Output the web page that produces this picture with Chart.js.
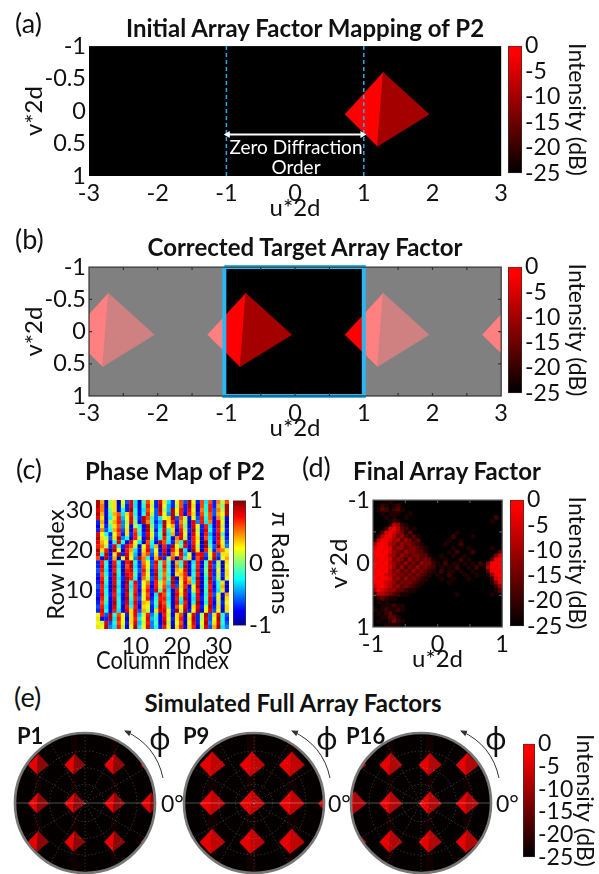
<!DOCTYPE html>
<html>
<head>
<meta charset="utf-8">
<script src="https://cdn.jsdelivr.net/npm/chart.js@4/dist/chart.umd.min.js"></script>
<style>
  html, body { margin: 0; padding: 0; background: #fff; width: 599px; height: 874px; overflow: hidden; }
  canvas { position: absolute; }
  svg { position: absolute; left: 0; top: 0; }
  .t { position: absolute; white-space: nowrap; font-family: Lato, sans-serif; color: #111; line-height: 1; }
  .title { font-weight: 700; font-size: 24px; transform: translateX(-50%); }
  .panel { font-size: 27px; }
  .tag { font-weight: 700; font-size: 22px; }
  .zero { font-size: 23px; }
  .note { color: #fff; font-size: 19px; transform: translateX(-50%); text-align: center; line-height: 20px; }
</style>
</head>
<body>
<script>
const FONT = 'Lato, sans-serif';

// axes
const uTicks = [-3, -2, -1, 0, 1, 2, 3];
const vTicks = [-1, -0.5, 0, 0.5, 1];
const uTicksFinal = [-1, 0, 1];
const vTicksFinal = [-1, 0, 1];
const indexTicks = [10, 20, 30];
const dbTicks = [0, -5, -10, -15, -20, -25];
const radianTicks = [1, 0, -1];

// the diamond of panel (a), one list per facet
const leftFacetU = [0.728, 1.283, 1.2];
const rightFacetU = [1.95, 1.283, 1.2];
const facetV = [0.05, -0.593, 0.543];

// panel (b) repeats it every 2 units of u
const targetShifts = [-4, -2, 0, 2];

// panel (e): peak positions in u and v, and facets around a peak
const discRange = 3.57;
const p1CentersU = [-2.4, -0.54, 1.49, 3.36];
const p9CentersU = [-2.15, -0.12, 1.9, 3.9];
const p16CentersU = [-3.4, -1.56, 0.44, 2.34];
const discCentersV = [-1.97, 0, 1.96];
const discLeftU = [-0.5, 0.02, -0.05];
const discRightU = [0.55, 0.02, -0.05];
const discFacetV = [0.03, -0.52, 0.5];
const p9Scale = 1.22;
const p16Scale = 1.1;
const discRings = [0.95, 1.8, 2.65];
const discSpokes = [30, 60, 90, 120, 150];

// faint vertical haze in the discs, [from u, to u]
const p1Haze = [[-0.7, -0.4], [1.35, 1.6], [-2.55, -2.25]];
const p9Haze = [[-0.35, 0.1], [-2.35, -1.9], [1.7, 2.15]];
const p16Haze = [[0.25, 0.6], [-1.75, -1.4], [2.15, 2.5]];

// panel (c): phase in units of pi, row 32 first
const phaseRows = [
  [.9,.4,-.9,.1,.3,-.9,.2,-.6,.8,-.3,-.9,-.1,.6,.2,-.7,.8,.3,-.3,-.7,.2,.6,-.6,.9,.2,-.7,.6,-.3,.6,-.7,.5,.1,.6],
  [.9,.5,-.9,.1,.3,-.8,.1,-.7,.8,-.3,-.9,-.2,.7,.1,-.7,.9,.2,-.4,-.7,.1,.6,-.7,.9,.3,-.8,.6,-.2,.7,-.7,.4,.0,.9],
  [.8,.5,-.8,.0,.3,-.8,-.2,-.7,.9,-.2,-.8,-.3,.6,.2,-.6,.9,.1,-.4,.9,.2,.7,-.7,.8,.2,-.8,.5,-.2,.7,-.6,.5,.1,.9],
  [.9,.4,-.8,-.1,.4,.6,-.3,.3,.7,-.2,-.8,-.2,.7,.1,-.6,.8,.2,-.5,.9,.1,.7,-.8,.7,.3,-.7,.6,-.1,.6,-.6,.4,.2,.9],
  [.8,.3,-.9,-.2,.3,.7,-.4,.2,.8,-.1,-.7,.9,.6,-.1,-.6,-.3,.2,.3,.9,-.6,.6,.1,-.8,.2,-.6,.7,-.2,.6,-.8,.5,.1,-.8],
  [-.7,.4,-.8,.1,.4,.7,-.5,.1,.8,.0,-.8,.9,.5,-.1,-.7,-.4,.9,.3,.7,-.7,.5,.1,-.9,.8,-.5,.7,-.3,.5,-.8,.8,.2,-.9],
  [-.8,.3,-.7,-.1,.3,.6,-.5,.2,-.8,.1,-.2,-.8,.9,.0,-.6,-.3,.9,.2,.4,-.7,.6,.0,-.8,.8,.2,-.7,.7,-.3,-.8,.8,.1,-.8],
  [-.7,.5,-.6,-.2,.4,.7,-.6,.3,-.8,.6,-.1,-.8,.9,.1,-.7,-.2,.8,-.2,.3,-.8,.7,.1,-.7,.9,.1,-.7,.8,-.2,-.7,.7,.2,-.7],
  [.8,.2,-.2,-.7,.2,.6,-.7,.3,-.7,.7,-.2,-.7,.8,.2,-.6,-.1,.9,-.3,.4,-.7,.8,.2,-.8,.8,.2,-.8,.7,-.4,-.8,.8,-.1,-.8],
  [.9,.3,.1,-.6,.3,.9,-.5,-.2,-.9,.7,.1,-.8,.9,.1,-.7,-.2,.7,-.2,-.8,.5,.8,.1,-.8,.7,.3,-.8,.6,-.3,-.7,.8,.1,-.7],
  [.8,.4,.2,-.8,-.2,.8,-.2,-.8,.8,.2,-.3,-.9,.6,-.2,-.8,.9,.6,-.3,-.7,.4,-.2,.9,-.7,.7,.2,-.9,.9,-.2,-.8,.7,.2,-.6],
  [.7,.5,.1,-.7,.8,-.2,-.7,.8,.6,.1,-.9,.2,.7,-.3,.4,-.9,.7,-.7,.9,.2,-.1,.8,-.8,.8,.1,-.8,.9,-.1,-.6,.9,.3,-.5],
  [.9,.3,.7,-.9,.9,.2,-.8,.7,.4,-.3,-.8,.3,.8,-.5,.2,-.8,.8,-.9,.7,.3,.9,-.3,-.9,.9,.3,-.9,.7,.1,-.7,.6,.5,.2],
  [.8,-.2,.9,-.8,.3,.9,-.7,.8,.3,-.4,-.9,.4,.6,-.6,.3,-.7,.9,-.8,.5,.2,.8,-.4,.2,-.9,.7,.8,-.6,.2,.8,-.6,.3,.3],
  [.6,-.8,.9,-.7,.4,-.9,.2,.9,.2,-.5,.9,.5,-.2,-.7,.4,.9,-.7,.1,.6,-.9,.7,-.2,.3,-.8,.6,.9,-.7,.1,.9,-.7,.2,.4],
  [-.7,.7,-.2,-.8,.7,-.2,-.8,.7,.9,-.2,-.7,.5,.2,-.6,.8,-.1,.6,-.1,-.9,.4,-.2,.8,-.9,-.3,.7,-.8,-.1,.8,-.7,.1,-.9,.3],
  [-.7,.8,-.2,-.9,.8,-.3,-.8,.6,.9,-.3,-.7,.6,.2,-.6,.7,-.1,.7,-.2,-.9,.5,-.2,.9,-.8,-.2,.7,-.8,-.1,.8,-.6,.1,-.9,.2],
  [-.6,.7,-.3,-.8,.7,-.2,-.9,.7,.8,-.2,-.6,.7,.1,-.7,.8,-.2,.6,-.1,-.8,.4,.3,.8,-.9,-.3,.8,-.7,.0,.9,-.7,.2,-.8,.3],
  [-.7,.6,-.2,-.7,.9,-.2,-.8,.8,.7,-.1,-.7,.6,.2,-.7,.9,-.1,.5,-.2,-.9,.3,.4,.7,-.8,-.2,.7,-.9,-.1,.8,-.7,.1,-.7,.3],
  [-.8,.7,-.1,-.8,.8,-.3,-.7,.9,.7,-.2,-.8,.5,.1,-.6,.8,-.2,.6,-.1,.9,-.8,.3,.7,.4,-.3,.9,-.8,-.2,.9,-.6,.1,-.8,.2],
  [-.7,.8,-.2,-.8,.8,-.2,-.8,.9,-.2,.8,-.7,.2,.5,-.7,.7,.1,.5,-.3,.9,-.7,.2,.8,.5,-.2,.8,-.9,-.1,.8,-.7,-.2,.3,-.8],
  [-.6,.7,-.3,-.9,.9,-.3,-.8,.8,-.3,.7,-.7,.2,.6,-.8,.7,.1,.6,-.4,.8,-.6,.3,.7,-.8,.2,.9,-.8,-.2,.7,-.8,-.2,.4,-.9],
  [-.7,.7,-.2,-.8,.8,-.2,-.7,.9,-.2,.7,-.8,.3,.7,-.7,.8,-.1,.7,-.3,-.8,.7,.2,.9,-.7,.1,.7,-.9,-.1,.8,-.7,-.3,.3,-.8],
  [-.7,.8,-.2,-.7,.7,-.3,-.8,.8,-.1,.8,-.7,.2,.6,-.8,-.3,.8,.6,-.2,-.9,.8,.3,.8,-.8,-.2,.8,-.8,-.2,.7,-.6,.2,-.8,.4],
  [-.8,.7,-.1,-.8,.8,-.2,-.8,.9,-.2,.7,-.6,.2,.7,-.7,-.2,.7,.7,-.3,-.8,.7,-.2,.9,-.8,-.3,.8,-.7,-.1,.8,-.7,.2,-.9,.3],
  [-.7,.6,-.2,-.8,.9,-.2,-.7,.8,-.3,.8,-.7,.4,.3,-.6,-.1,.8,.6,-.2,-.9,.8,-.3,.7,-.9,-.2,.9,-.8,-.2,.8,-.8,.1,-.7,.2],
  [-.6,.7,-.3,-.9,.8,-.2,-.9,.7,-.2,.7,-.8,.3,.2,-.7,-.2,.9,.7,-.1,-.8,.6,.2,.8,-.8,.3,.8,-.7,.1,.9,-.7,.3,-.8,.3],
  [-.7,.8,-.2,-.8,.7,-.3,-.8,.8,.3,.8,-.6,.4,.1,-.7,.3,.8,.8,.2,-.7,.9,.1,.9,-.7,.2,.9,-.8,.2,.8,-.6,.2,-.9,.3],
  [.2,.7,-.6,.9,-.2,.6,.2,-.7,.3,.8,-.4,.1,.7,-.5,-.1,-.8,.7,.1,-.8,.3,.6,-.9,.2,.8,-.7,.1,.9,-.6,.3,.8,-.2,-.6],
  [.3,-.8,-.7,.9,-.3,.7,.2,-.8,.3,.7,-.3,.2,.8,-.4,-.2,-.8,.8,.2,-.7,.3,.7,-.8,.3,.9,-.7,.1,.8,-.6,.2,.9,-.2,-.7],
  [.2,.1,.8,-.6,-.2,.6,.2,-.7,.3,.8,-.4,.1,.7,-.5,-.1,-.8,.9,.1,-.8,.2,.6,-.9,.2,.8,-.7,.2,.9,-.5,.3,.8,-.2,-.6],
  [.3,.2,.9,-.5,-.3,.7,.1,-.8,.2,.9,-.3,.2,.8,-.5,-.2,-.7,.7,.2,-.9,.3,.7,-.8,.3,.7,-.8,.1,.8,-.6,.4,.9,-.3,-.5]
];

// panel (d): brightness steps 0 (-25 dB) to 9 (0 dB), 33 by 33, top row first
const finalLevels = [
  [0,0,0,0,1,0,0,0,0,0,0,0,0,0,0,0,0,0,0,0,0,0,0,0,0,0,0,0,0,0,0,0,0],
  [0,0,2,1,0,1,2,0,0,0,0,0,0,0,0,0,0,0,0,0,0,0,0,0,0,0,0,0,0,0,0,0,0],
  [0,1,3,2,0,2,3,1,0,0,0,0,0,0,0,0,0,0,0,0,0,0,0,0,0,0,0,0,0,0,0,0,0],
  [0,0,1,0,1,1,1,0,0,1,0,0,0,0,0,0,0,0,0,0,0,0,0,0,0,0,0,0,0,0,0,0,0],
  [0,0,0,1,0,1,0,0,1,0,0,0,0,0,0,0,0,0,0,0,0,0,0,0,0,0,0,0,0,0,0,2,0],
  [0,0,0,0,1,2,1,0,0,0,0,0,0,0,0,0,0,0,0,0,0,0,0,0,0,0,0,0,0,0,1,0,0],
  [0,0,0,0,1,6,5,2,1,0,0,0,0,0,0,0,0,0,0,0,0,0,0,0,0,0,0,0,0,0,0,0,0],
  [0,0,0,2,7,8,6,3,2,0,1,0,0,0,0,0,0,0,0,0,0,0,0,0,0,0,0,0,0,0,0,0,0],
  [0,0,3,7,8,7,5,4,1,3,0,0,0,0,0,0,0,0,0,0,0,1,0,0,0,0,0,0,0,0,0,0,0],
  [0,2,6,8,8,6,4,5,3,1,3,1,0,0,0,0,0,0,0,0,2,0,0,0,0,1,0,0,0,0,0,0,0],
  [1,6,8,8,7,5,6,3,5,4,2,3,0,0,0,0,0,0,0,1,0,0,1,0,0,0,0,0,0,0,0,0,0],
  [5,8,9,8,6,5,3,5,4,4,3,2,1,0,0,0,0,0,1,0,0,0,2,0,0,0,0,0,0,0,0,0,0],
  [7,9,9,8,7,4,5,5,3,4,4,3,2,1,0,0,0,0,0,0,1,0,0,0,1,0,0,0,0,0,1,0,0],
  [8,9,8,9,7,5,4,3,5,4,4,3,3,1,0,0,0,0,0,1,0,2,0,0,0,2,0,0,0,0,0,0,3],
  [8,9,9,8,6,5,3,5,4,3,4,4,3,3,1,0,0,1,0,0,1,0,0,1,0,0,0,0,0,0,0,4,7],
  [8,8,9,8,7,4,5,4,2,5,3,4,3,4,3,1,0,0,1,0,0,0,2,0,1,0,0,0,0,0,3,8,9],
  [8,9,8,9,6,5,4,3,5,3,4,2,5,4,4,2,1,0,2,0,1,1,0,1,0,1,0,2,0,4,8,9,8],
  [9,8,9,8,7,5,3,5,2,4,3,5,3,4,3,2,0,1,0,1,0,2,0,0,1,0,2,0,1,6,9,8,9],
  [8,9,8,9,6,4,5,3,4,3,5,3,4,3,2,1,0,2,0,1,1,0,1,0,0,1,0,0,0,3,8,9,8],
  [8,9,9,7,6,5,4,4,3,4,3,4,3,2,1,0,1,0,0,2,0,0,0,1,0,0,1,0,0,1,5,8,9],
  [9,8,9,8,7,4,5,3,5,3,4,3,2,1,0,0,0,1,0,0,1,0,0,0,1,0,0,0,0,0,2,7,8],
  [8,9,8,7,6,5,3,4,3,4,3,2,1,0,0,0,0,0,0,1,0,0,0,0,0,0,0,0,0,0,1,4,8],
  [7,8,9,7,6,4,5,3,4,3,2,1,0,0,0,0,0,0,0,0,0,0,0,0,0,0,0,0,0,0,0,2,5],
  [5,8,7,6,5,5,3,3,2,1,1,0,0,0,0,0,0,0,0,0,0,0,0,0,0,0,0,0,0,0,0,1,3],
  [2,6,6,5,4,3,2,1,1,0,0,0,0,0,0,0,0,0,0,0,0,1,0,0,0,0,0,0,0,0,1,0,0],
  [0,2,3,2,1,1,0,0,0,0,0,0,0,0,0,0,0,0,0,0,0,0,0,0,0,0,0,0,0,0,0,0,0],
  [0,1,0,1,0,0,0,0,0,0,0,0,0,0,0,0,0,0,0,0,0,0,0,0,0,0,0,0,0,0,0,0,0],
  [0,0,1,1,1,2,1,1,0,0,0,0,0,0,0,0,0,0,0,0,0,0,0,0,0,0,0,0,0,0,0,0,0],
  [1,0,1,2,1,1,2,1,0,0,0,0,0,0,0,0,0,0,0,0,0,0,0,0,0,0,0,0,0,0,0,0,0],
  [0,1,0,2,3,1,0,0,0,0,0,0,0,0,0,0,0,0,0,0,0,0,0,0,0,0,0,0,0,0,0,0,0],
  [0,0,1,1,3,3,1,0,0,0,0,0,0,0,0,0,0,0,0,0,0,0,0,0,0,0,0,0,0,0,0,0,0],
  [0,1,0,0,2,4,2,1,0,0,0,0,0,0,0,0,0,0,0,0,0,0,0,0,0,0,0,0,0,0,0,0,0],
  [0,0,0,1,1,1,1,0,0,0,0,0,0,0,0,0,0,0,0,0,0,0,0,0,0,0,0,0,0,0,0,0,0]
];

// colorbar stops, bottom to top
const heatStops = [[0, '#000000'], [0.94, '#ff0000'], [1, '#ff0000']];
const jetStops = [[0, '#00008f'], [0.12, '#0000ff'], [0.37, '#00ffff'], [0.5, '#7fff7f'], [0.62, '#ffff00'], [0.87, '#ff0000'], [1, '#800000']];

function stopColor(stops, t) {
  for (let i = 1; i < stops.length; i++) {
    if (t <= stops[i][0]) {
      const a = stops[i - 1], b = stops[i];
      const k = (t - a[0]) / (b[0] - a[0]);
      const ca = [1, 3, 5].map(n => parseInt(a[1].substr(n, 2), 16));
      const cb = [1, 3, 5].map(n => parseInt(b[1].substr(n, 2), 16));
      return 'rgb(' + ca.map((c, n) => Math.round(c + (cb[n] - c) * k)).join(',') + ')';
    }
  }
  return stops[stops.length - 1][1];
}

// filled shapes: a dataset with polyColor is painted as a closed path through its own points
const polyPlugin = {
  id: 'polyFill',
  beforeDatasetDraw(chart, args) {
    const ds = chart.data.datasets[args.index];
    if (!ds.polyColor) return;
    const ctx = chart.ctx, a = chart.chartArea;
    ctx.save();
    ctx.beginPath();
    if (ds.polyClip) {
      const x0 = chart.scales.x.getPixelForValue(ds.polyClip[0]);
      const x1 = chart.scales.x.getPixelForValue(ds.polyClip[1]);
      ctx.rect(x0, a.top, x1 - x0, a.bottom - a.top);
    } else {
      ctx.rect(a.left, a.top, a.right - a.left, a.bottom - a.top);
    }
    ctx.clip();
    ctx.beginPath();
    args.meta.data.forEach((p, i) => i ? ctx.lineTo(p.x, p.y) : ctx.moveTo(p.x, p.y));
    ctx.closePath();
    ctx.fillStyle = ds.polyColor;
    ctx.strokeStyle = ds.polyColor;
    ctx.lineWidth = 0.6;
    ctx.fill();
    ctx.stroke();
    ctx.restore();
  }
};

// plot floor, frame and the small inward ticks
const framePlugin = {
  id: 'frame',
  beforeDatasetsDraw(chart, args, opts) {
    const a = chart.chartArea, ctx = chart.ctx;
    if (opts.floor) {
      ctx.fillStyle = opts.floor;
      ctx.fillRect(a.left, a.top, a.right - a.left, a.bottom - a.top);
    }
  },
  afterDatasetsDraw(chart, args, opts) {
    const a = chart.chartArea, ctx = chart.ctx;
    if (!opts.edge) return;
    ctx.save();
    ctx.strokeStyle = opts.edge;
    ctx.lineWidth = 1.2;
    ctx.strokeRect(a.left, a.top, a.right - a.left, a.bottom - a.top);
    (opts.innerU || []).forEach(u => {
      const x = chart.scales.x.getPixelForValue(u);
      ctx.beginPath();
      ctx.moveTo(x, a.top); ctx.lineTo(x, a.top + 3);
      ctx.moveTo(x, a.bottom); ctx.lineTo(x, a.bottom - 3);
      ctx.stroke();
    });
    (opts.innerV || []).forEach(v => {
      const y = chart.scales.y.getPixelForValue(v);
      ctx.beginPath();
      ctx.moveTo(a.left, y); ctx.lineTo(a.left + 3, y);
      ctx.moveTo(a.right, y); ctx.lineTo(a.right - 3, y);
      ctx.stroke();
    });
    ctx.restore();
  }
};

// round plot of panel (e): clip to the disc, polar grid and rim on top
const discPlugin = {
  id: 'disc',
  beforeDatasetsDraw(chart, args, opts) {
    if (!opts.on) return;
    const ctx = chart.ctx, x = chart.scales.x, cx = x.getPixelForValue(0), cy = chart.scales.y.getPixelForValue(0);
    const r = x.getPixelForValue(discRange) - cx;
    ctx.save();
    ctx.beginPath();
    ctx.arc(cx, cy, r, 0, Math.PI * 2);
    ctx.fillStyle = '#050000';
    ctx.fill();
    ctx.clip();
  },
  afterDatasetsDraw(chart, args, opts) {
    if (!opts.on) return;
    const ctx = chart.ctx, x = chart.scales.x, cx = x.getPixelForValue(0), cy = chart.scales.y.getPixelForValue(0);
    const r = x.getPixelForValue(discRange) - cx;
    ctx.strokeStyle = 'rgba(190,190,190,0.35)';
    ctx.lineWidth = 0.7;
    ctx.setLineDash([1.5, 2]);
    discRings.forEach(v => {
      ctx.beginPath();
      ctx.arc(cx, cy, x.getPixelForValue(v) - cx, 0, Math.PI * 2);
      ctx.stroke();
    });
    discSpokes.forEach(deg => {
      const dx = Math.cos(deg * Math.PI / 180) * r, dy = Math.sin(deg * Math.PI / 180) * r;
      ctx.beginPath();
      ctx.moveTo(cx - dx, cy - dy);
      ctx.lineTo(cx + dx, cy + dy);
      ctx.stroke();
    });
    ctx.setLineDash([]);
    ctx.strokeStyle = 'rgba(225,225,225,0.5)';
    ctx.beginPath();
    ctx.moveTo(cx - r, cy);
    ctx.lineTo(cx + r, cy);
    ctx.stroke();
    ctx.restore();
    ctx.strokeStyle = '#777';
    ctx.lineWidth = 2.6;
    ctx.beginPath();
    ctx.arc(cx, cy, r, 0, Math.PI * 2);
    ctx.stroke();
  }
};

Chart.register(polyPlugin, framePlugin, discPlugin);
Chart.defaults.font.family = FONT;
Chart.defaults.color = '#111';

function text(cls, str, x, y) {
  const d = document.createElement('div');
  d.className = 't ' + cls;
  d.style.left = x + 'px';
  d.style.top = y + 'px';
  d.innerHTML = str;
  document.body.appendChild(d);
}

function facet(us, vs, color, clip) {
  return { data: us.map((u, i) => ({ x: u, y: vs[i] })), showLine: false, pointRadius: 0, polyColor: color, polyClip: clip };
}

function shifted(us, du) {
  return us.map(u => u + du);
}

// canvas sized so the chart area lands on box = [left, top, width, height]
function place(box, m, config) {
  const c = document.createElement('canvas');
  c.width = box[2] + m.l + m.r;
  c.height = box[3] + m.t + m.b;
  c.style.left = (box[0] - m.l) + 'px';
  c.style.top = (box[1] - m.t) + 'px';
  document.body.appendChild(c);
  config.options.responsive = false;
  config.options.animation = false;
  config.options.layout = { padding: m.bar ? { top: m.t, bottom: m.b, left: 0, right: 0 } : { top: m.t, right: m.r, left: 0, bottom: 0 } };
  config.options.plugins = Object.assign({ legend: { display: false }, tooltip: { enabled: false } }, config.options.plugins);
  config.data.datasets.forEach((d, i, all) => { d.order = all.length - i; });
  return new Chart(c.getContext('2d'), config);
}

function axis(ticks, lo, hi, size, fit, title, titleSize, o) {
  return Object.assign({
    type: 'linear', min: lo, max: hi,
    grid: { display: false, drawTicks: false },
    border: { display: false },
    afterBuildTicks: s => { s.ticks = ticks.map(v => ({ value: v })); },
    ticks: { autoSkip: false, maxRotation: 0, minRotation: 0, padding: 3, font: { size: size }, callback: v => String(v) },
    title: { display: !!title, text: title, font: { size: titleSize }, padding: { top: 0, bottom: 0 } },
    afterFit: s => { if (s.isHorizontal()) s.height = fit; else s.width = fit; }
  }, o);
}

function plot(box, m, datasets, xTicks, yTicks, xr, yr, yReverse, plugins) {
  return place(box, m, {
    type: 'scatter',
    data: { datasets: datasets },
    options: {
      scales: {
        x: axis(xTicks, xr[0], xr[1], 23.5, m.b, 'u*2d', 24),
        y: axis(yTicks, yr[0], yr[1], 23.5, m.l, 'v*2d', 24, { reverse: yReverse })
      },
      plugins: plugins
    }
  });
}

function colorbar(box, m, stops, ticks, lo, hi, title, size, titleSize) {
  m.bar = true;
  place(box, m, {
    type: 'bar',
    data: {
      labels: [''],
      datasets: [{
        data: [[lo, hi]],
        barPercentage: 1,
        categoryPercentage: 1,
        borderColor: '#333',
        borderWidth: 1,
        borderSkipped: false,
        backgroundColor: ctx => {
          const a = ctx.chart.chartArea;
          if (!a) return '#000';
          const g = ctx.chart.ctx.createLinearGradient(0, a.bottom, 0, a.top);
          stops.forEach(s => g.addColorStop(s[0], s[1]));
          return g;
        }
      }]
    },
    options: {
      scales: {
        x: { display: false },
        y: axis(ticks, lo, hi, size, m.r, title, titleSize, { position: 'right' })
      }
    }
  });
}

// (a)
const boxA = [89, 43, 414, 133];
const dashedA = [-1, 1].map(u => ({
  data: [{ x: u, y: -1 }, { x: u, y: 1 }], showLine: true, pointRadius: 0,
  borderColor: '#2aa9e0', borderWidth: 1.5, borderDash: [4, 3]
}));
plot(boxA, { l: 69, r: 8, t: 14, b: 47 }, [
  facet(leftFacetU, facetV, '#ff0000'),
  facet(rightFacetU, facetV, '#a50000'),
  dashedA[0], dashedA[1],
  { data: [{ x: -0.98, y: 0.36 }, { x: 0.98, y: 0.36 }], showLine: true, borderColor: '#fff', borderWidth: 2,
    pointStyle: 'triangle', pointRadius: 4, pointRotation: [-90, 90], pointBackgroundColor: '#fff', pointBorderWidth: 0 }
], uTicks, vTicks, [-3, 3], [-1, 1], true, { frame: { floor: '#000' } });
colorbar([508, 43, 14, 133], { l: 0, r: 68, t: 14, b: 14 }, heatStops, dbTicks, -25, 0, 'Intensity (dB)', 23, 23);

// (b)
const boxB = [89, 264, 414, 132];
const targetSets = [];
targetShifts.forEach(du => {
  targetSets.push(facet(shifted(leftFacetU, du), facetV, '#ff8080'));
  targetSets.push(facet(shifted(rightFacetU, du), facetV, '#cf8080'));
});
targetSets.push(facet([-1.03, 1, 1, -1.03], [-1, -1, 1, 1], '#000000'));
targetShifts.forEach(du => {
  targetSets.push(facet(shifted(leftFacetU, du), facetV, '#ff0000', [-1.03, 1]));
  targetSets.push(facet(shifted(rightFacetU, du), facetV, '#a50000', [-1.03, 1]));
});
targetSets.push({
  data: [{ x: -1.03, y: -1 }, { x: 1, y: -1 }, { x: 1, y: 1 }, { x: -1.03, y: 1 }, { x: -1.03, y: -1 }],
  showLine: true, pointRadius: 0, borderColor: '#2bb7f5', borderWidth: 4, borderJoinStyle: 'miter', clip: 4
});
plot(boxB, { l: 69, r: 8, t: 14, b: 47 }, targetSets, uTicks, vTicks, [-3, 3], [-1, 1], true, {
  frame: { floor: '#808080', edge: '#333', innerU: [-2.5, -2, -1.5, -0.5, 0, 0.5, 1.5, 2, 2.5], innerV: [-0.5, 0, 0.5] }
});
colorbar([508, 264, 14, 132], { l: 0, r: 68, t: 14, b: 14 }, heatStops, dbTicks, -25, 0, 'Intensity (dB)', 23, 23);

// (c)
const phaseCells = [];
const phaseColors = [];
phaseRows.forEach((row, i) => row.forEach((val, j) => {
  phaseCells.push({ x: j + 1, y: 32 - i });
  phaseColors.push(stopColor(jetStops, (val + 1) / 2));
}));
place([96, 497, 133, 132], { l: 54, r: 8, t: 14, b: 47 }, {
  type: 'scatter',
  data: { datasets: [{ data: phaseCells, pointStyle: 'rect', pointRadius: 3.05, pointBorderWidth: 0, pointBackgroundColor: phaseColors }] },
  options: {
    scales: {
      x: axis(indexTicks, 0.5, 32.5, 23.5, 47, 'Column Index', 25),
      y: axis(indexTicks, 0.5, 32.5, 23.5, 54, 'Row Index', 24)
    }
  }
});
colorbar([233, 497, 13, 132], { l: 0, r: 48, t: 14, b: 14 }, jetStops, radianTicks, -1, 1, 'π Radians', 24, 24);

// (d)
const finalCells = [];
const finalColors = [];
finalLevels.forEach((row, i) => row.forEach((val, j) => {
  if (!val) return;
  finalCells.push({ x: -1 + (j + 0.5) * 2 / 33, y: -1 + (i + 0.5) * 2 / 33 });
  finalColors.push(stopColor(heatStops, val / 9));
}));
plot([373, 497, 131, 130], { l: 48, r: 8, t: 14, b: 47 }, [
  { data: finalCells, pointStyle: 'circle', pointRadius: 2.6, pointBorderWidth: 0, pointBackgroundColor: finalColors }
], uTicksFinal, vTicksFinal, [-1, 1], [-1, 1], true, {
  frame: { floor: '#000', edge: '#555', innerU: [-0.5, 0, 0.5], innerV: [-0.5, 0, 0.5] }
});
colorbar([510, 497, 14, 132], { l: 0, r: 66, t: 14, b: 14 }, heatStops, dbTicks, -25, 0, 'Intensity (dB)', 23, 23);

// (e)
function discChart(cx, centers, haze, scale, leftColor, rightColor) {
  const sets = [];
  haze.forEach(h => sets.push(facet([h[0], h[1], h[1], h[0]], [-3.6, -3.6, 3.6, 3.6], 'rgba(110,0,0,0.12)')));
  centers.forEach(cu => discCentersV.forEach(cv => {
    const vs = discFacetV.map(v => cv + v * scale);
    sets.push(facet(discLeftU.map(u => cu + u * scale), vs, leftColor));
    sets.push(facet(discRightU.map(u => cu + u * scale), vs, rightColor));
  }));
  place([cx - 72, 731, 144, 144], { l: 0, r: 0, t: 0, b: 0 }, {
    type: 'scatter',
    data: { datasets: sets },
    options: {
      scales: {
        x: { display: false, min: -3.67, max: 3.67 },
        y: { display: false, min: -3.67, max: 3.67, reverse: true }
      },
      plugins: { disc: { on: true } }
    }
  });
}
discChart(85, p1CentersU, p1Haze, 1, '#e60000', '#8c0808');
discChart(254, p9CentersU, p9Haze, p9Scale, '#e60000', '#c00404');
discChart(421, p16CentersU, p16Haze, p16Scale, '#e60000', '#b00808');
colorbar([523, 733, 12, 139], { l: 0, r: 63, t: 6, b: 2 }, heatStops, dbTicks, -25, 0, 'Intensity (dB)', 23, 23);

// titles and notes
text('panel', '(a)', 15, 9);
text('title', 'Initial Array Factor Mapping of P2', 305, 16);
text('note', 'Zero Diffraction<br>Order', 296, 137);
text('panel', '(b)', 15, 225);
text('title', 'Corrected Target Array Factor', 305, 235);
text('panel', '(c)', 16, 455);
text('title', 'Phase Map of P2', 175, 459);
text('panel', '(d)', 302, 453);
text('title', 'Final Array Factor', 447, 459);
text('panel', '(e)', 14, 683);
text('title', 'Simulated Full Array Factors', 293, 691);
text('tag', 'P1', 17, 725);
text('tag', 'P9', 183, 725);
text('tag', 'P16', 346, 725);
[[149, 724], [316, 724], [485, 724]].forEach(p => text('panel', '<span style="font-family:\'Noto Sans\';font-size:30px">ϕ</span>', p[0], p[1]));
[161, 328, 496].forEach(x => text('zero', '0°', x, 792));
</script>
<svg width="599" height="874">
  <defs><marker id="head" markerWidth="8" markerHeight="8" refX="6" refY="3" orient="auto"><path d="M0,0 L7,3 L0,6 Z" fill="#333"/></marker></defs>
  <path d="M163 778 Q156 745 125 731" fill="none" stroke="#333" stroke-width="1" marker-end="url(#head)"/>
  <path d="M330 778 Q323 745 292 731" fill="none" stroke="#333" stroke-width="1" marker-end="url(#head)"/>
  <path d="M499 778 Q492 745 461 731" fill="none" stroke="#333" stroke-width="1" marker-end="url(#head)"/>
</svg>
</body>
</html>
